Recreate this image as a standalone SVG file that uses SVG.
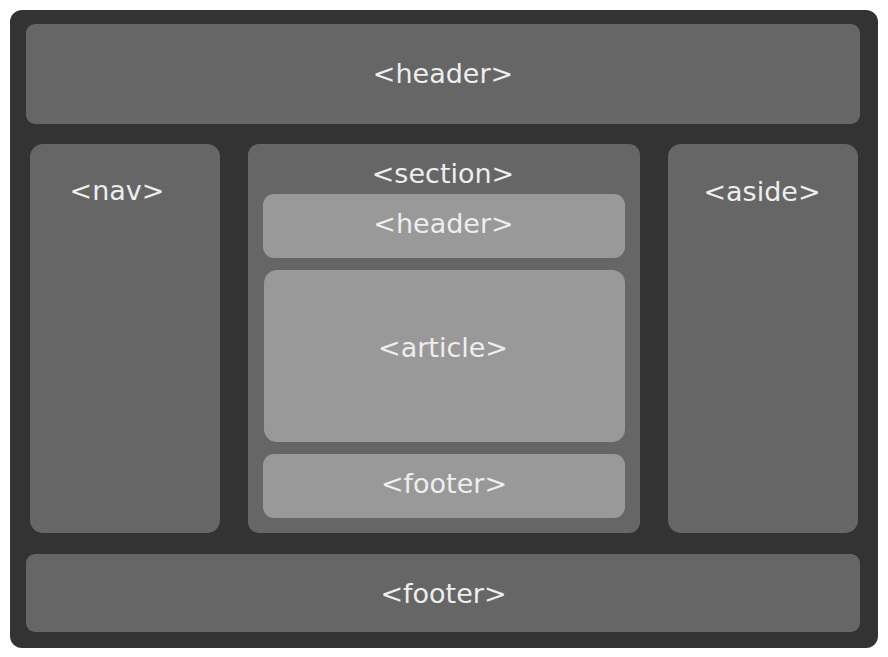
<svg xmlns="http://www.w3.org/2000/svg" width="888" height="657" viewBox="0 0 888 657">
<style>
.box{fill:#666666}
.inner{fill:#999999}
text{font-family:"DejaVu Sans",Verdana,sans-serif;font-size:27px;fill:#eeeeee;text-anchor:middle}
</style>
<rect width="888" height="657" fill="#ffffff"/>
<g id="page">
<rect x="10" y="10" width="868" height="638" rx="12" fill="#333333"/>
</g>
<g id="header">
<rect class="box" x="26" y="24" width="834" height="100" rx="9"/>
<text x="443" y="83">&lt;header&gt;</text>
</g>
<g id="nav">
<rect class="box" x="30" y="144" width="190" height="389" rx="13"/>
<text x="117" y="200">&lt;nav&gt;</text>
</g>
<g id="section">
<rect class="box" x="248" y="144" width="392" height="389" rx="11"/>
<text x="443" y="183">&lt;section&gt;</text>
</g>
<g id="section-header">
<rect class="inner" x="263" y="194" width="362" height="64" rx="11"/>
<text x="443.5" y="233">&lt;header&gt;</text>
</g>
<g id="article">
<rect class="inner" x="264" y="270" width="361" height="172" rx="13"/>
<text x="443" y="357">&lt;article&gt;</text>
</g>
<g id="section-footer">
<rect class="inner" x="263" y="454" width="362" height="64" rx="11"/>
<text x="444" y="493">&lt;footer&gt;</text>
</g>
<g id="aside">
<rect class="box" x="668" y="144" width="190" height="389" rx="13"/>
<text x="762" y="201">&lt;aside&gt;</text>
</g>
<g id="footer">
<rect class="box" x="26" y="554" width="834" height="78" rx="9"/>
<text x="443.5" y="603">&lt;footer&gt;</text>
</g>
<g id="connectors"/>
</svg>
